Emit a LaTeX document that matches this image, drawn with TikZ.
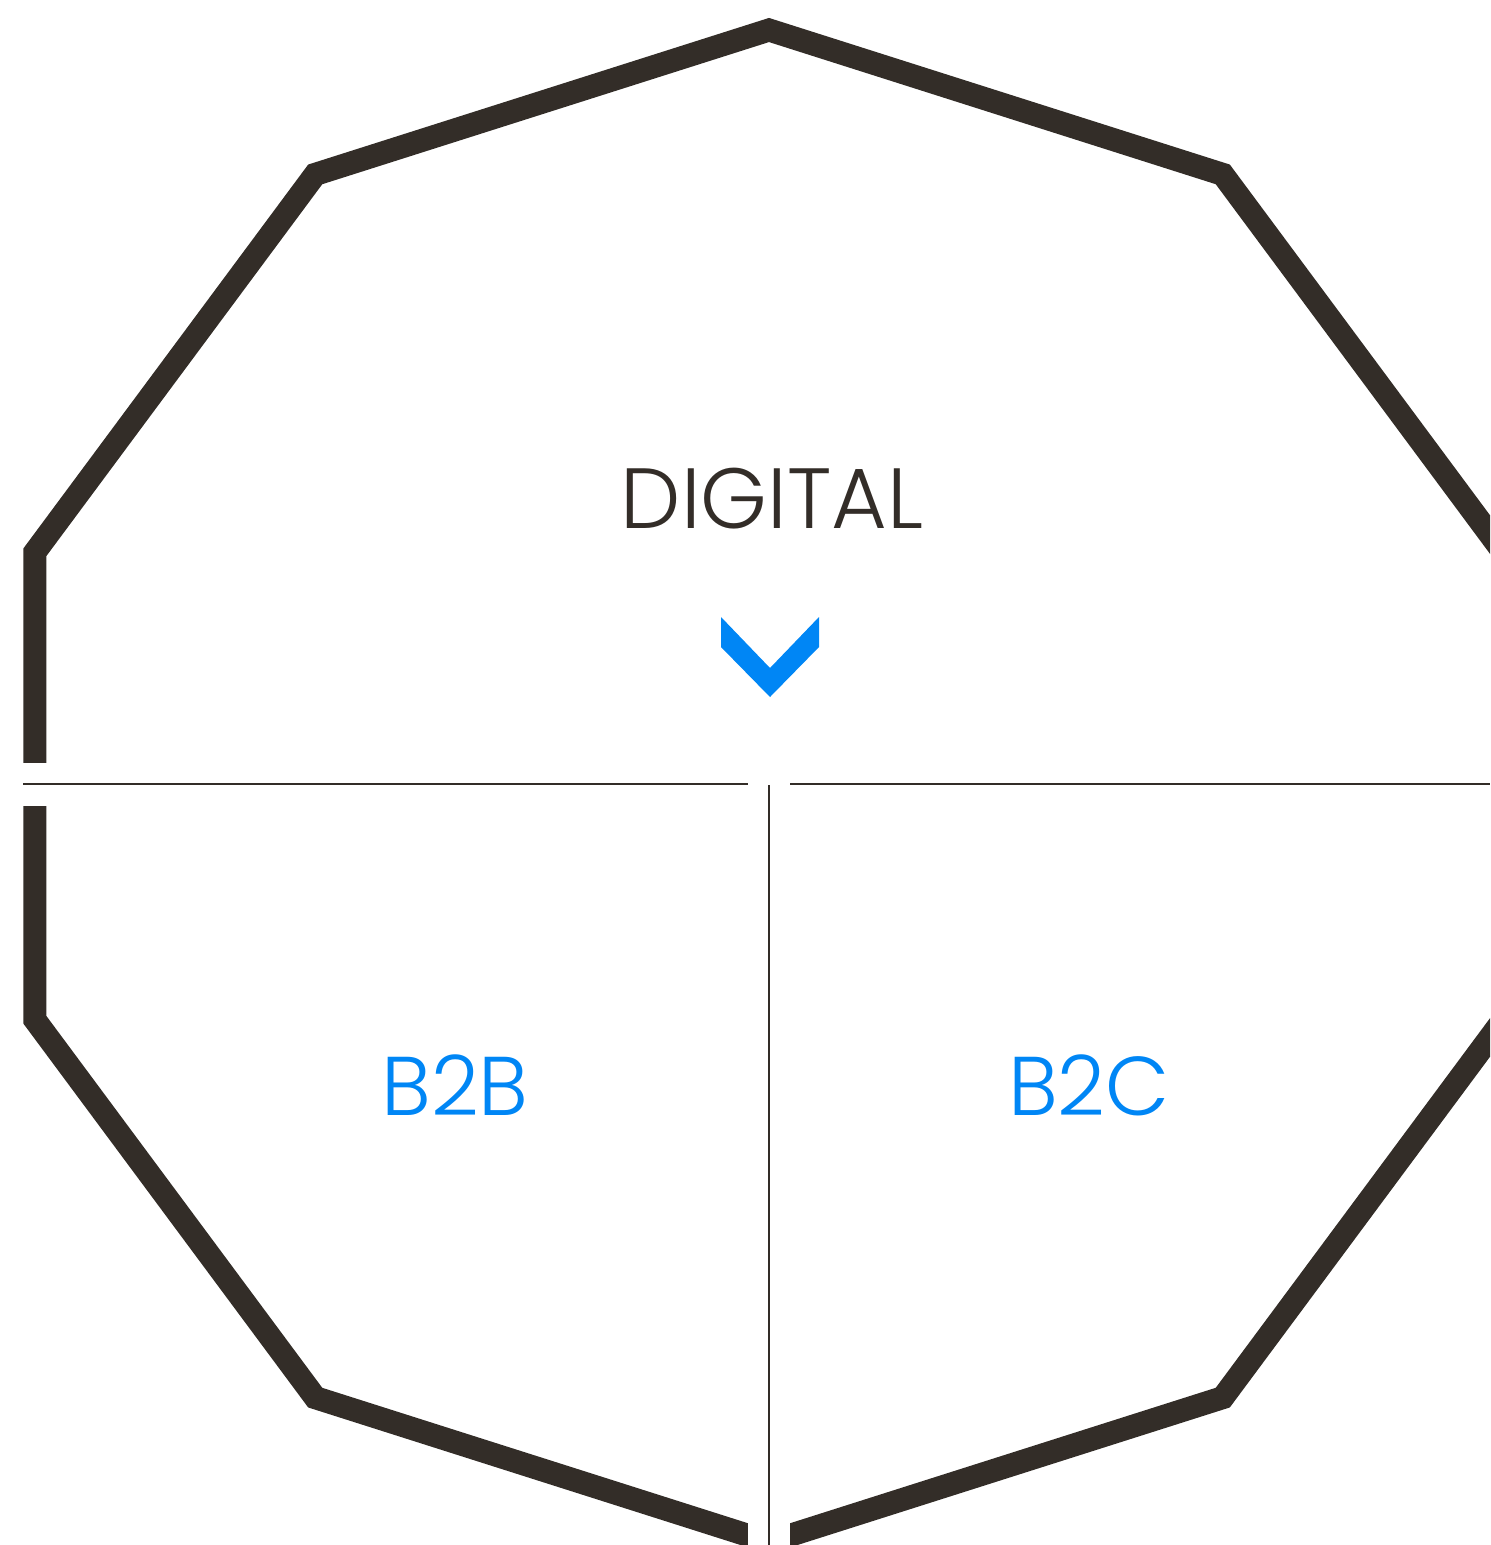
\documentclass[tikz,border=0pt]{standalone}
\usepackage{fontspec}
\setmainfont{Poppins}[UprightFont=* Light]
\usepackage{tikz}
\definecolor{ink}{HTML}{332D28}
\definecolor{azure}{HTML}{0086F5}

\begin{document}
\begin{tikzpicture}[x=0.01cm, y=-0.01cm,
  frame/.style={draw=ink, line width=0.23cm, line join=miter},
  divider/.style={draw=ink, line width=0.8pt},
  label/.style={inner sep=0pt, font=\fontsize{24.3}{30}\selectfont},
  market/.style={label, text=azure, font=\fontsize{23.7}{30}\selectfont}]
\useasboundingbox (0,0) rectangle (1490,1545);
\clip (0,0) rectangle (1490,1545);
\coordinate (c) at (769,786);
% decagon
\draw[frame, shift={(c)}] (90:772 and 756) \foreach \k in {1,...,9} { -- (90+36*\k:772 and 756)} -- cycle;
% gaps
\fill[white] (0,763) rectangle (1490,806);
\fill[white] (748,1200) rectangle (790,1545);
% dividers
\coordinate (w) at (23,784);
\coordinate (wg) at (748,784);
\coordinate (eg) at (790,784);
\coordinate (e) at (1490,784);
\coordinate (s0) at (769,785);
\coordinate (s) at (769,1545);
\draw[divider] (w) -- (wg);
\draw[divider] (eg) -- (e);
\draw[divider] (s0) -- (s);
% labels
\node[label, text=ink] (digital) at (772,499) {DIGITAL};
\node[market] (b2b) at (455,1085) {B2B};
\node[market] (b2c) at (1089,1085) {B2C};
% chevron
\fill[azure] (721,617) -- (770,668) -- (819,617) -- (819,647) -- (770,697) -- (721,647) -- cycle;
\end{tikzpicture}
\end{document}
